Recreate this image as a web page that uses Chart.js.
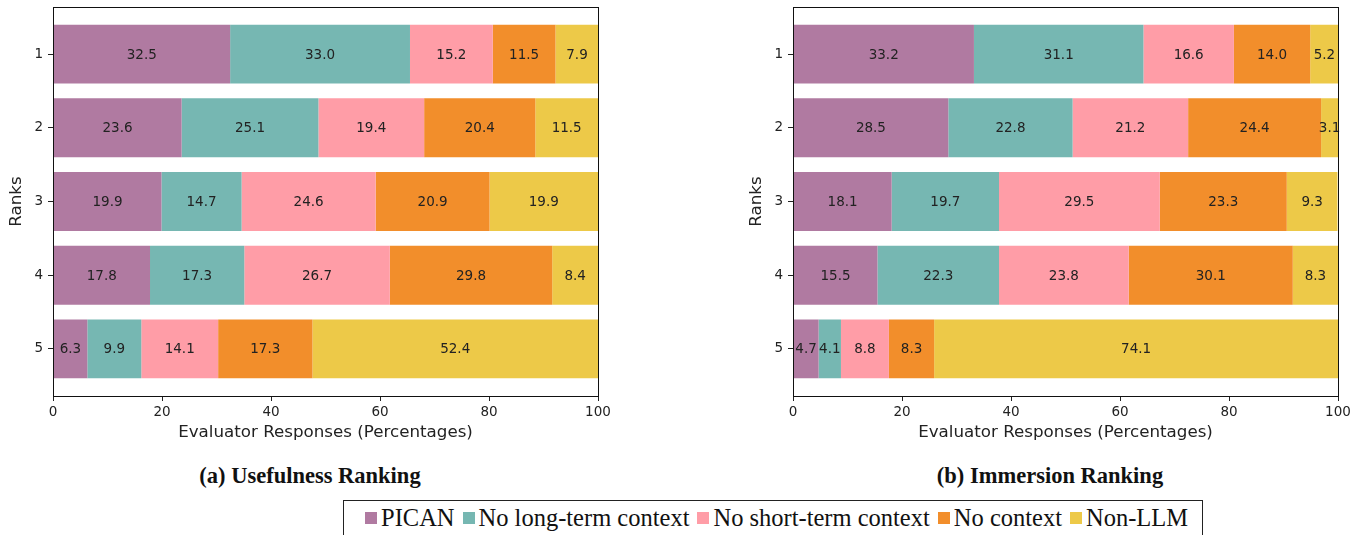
<!DOCTYPE html>
<html>
<head>
<meta charset="utf-8">
<script src="https://cdn.jsdelivr.net/npm/chart.js@4.4.1/dist/chart.umd.min.js"></script>
<style>
  body{margin:0;background:#fff;width:1361px;height:535px;overflow:hidden;position:relative;}
  .wrap{position:absolute;top:0;width:620px;height:448px;}
  .cap{position:absolute;top:463px;font-family:"Liberation Serif",serif;font-weight:bold;font-size:22.5px;color:#111;transform:translateX(-50%);white-space:nowrap;}
  #legend{position:absolute;left:343px;top:500px;width:860px;height:50px;border:1px solid #222;
    font-family:"Liberation Serif",serif;font-size:24.5px;color:#111;display:flex;align-items:flex-start;padding-top:3px;padding-left:21px;box-sizing:border-box;white-space:nowrap;}
  #legend .item{display:flex;align-items:center;margin-right:8px;}
  #legend .sw{width:12px;height:12px;margin-right:4px;}
</style>
</head>
<body>
<div class="wrap" style="left:0"><canvas id="c1"></canvas></div>
<div class="wrap" style="left:740px"><canvas id="c2"></canvas></div>
<div class="cap" style="left:310px">(a) Usefulness Ranking</div>
<div class="cap" style="left:1050px">(b) Immersion Ranking</div>
<div id="legend"></div>
<script>
// ================= DATA =================
const ranks = [1, 2, 3, 4, 5];
const seriesNames = ["PICAN", "No long-term context", "No short-term context", "No context", "Non-LLM"];
const colors = ["#b07aa1", "#76b7b2", "#ff9da7", "#f28e2b", "#edc948"];
const xTicks = [0, 20, 40, 60, 80, 100];

// usefulness (a)
const usePican   = [32.5, 23.6, 19.9, 17.8, 6.3];
const useNoLong  = [33.0, 25.1, 14.7, 17.3, 9.9];
const useNoShort = [15.2, 19.4, 24.6, 26.7, 14.1];
const useNoCtx   = [11.5, 20.4, 20.9, 29.8, 17.3];
const useNonLLM  = [7.9, 11.5, 19.9, 8.4, 52.4];

// immersion (b)
const immPican   = [33.2, 28.5, 18.1, 15.5, 4.7];
const immNoLong  = [31.1, 22.8, 19.7, 22.3, 4.1];
const immNoShort = [16.6, 21.2, 29.5, 23.8, 8.8];
const immNoCtx   = [14.0, 24.4, 23.3, 30.1, 8.3];
const immNonLLM  = [5.2, 3.1, 9.3, 8.3, 74.1];

Chart.defaults.font.family = "'DejaVu Sans'";
Chart.defaults.color = "#222";

// ================= PLUGINS =================
const frame = {
  id: "frame",
  afterDraw(chart){
    const {ctx, chartArea:a} = chart;
    ctx.save();
    ctx.strokeStyle = "#111";
    ctx.lineWidth = 1;
    ctx.strokeRect(Math.round(a.left)+0.5, Math.round(a.top)+0.5, Math.round(a.right-a.left), Math.round(a.bottom-a.top));
    ctx.restore();
  }
};

const barLabels = {
  id: "barLabels",
  afterDatasetsDraw(chart){
    const ctx = chart.ctx;
    ctx.save();
    ctx.font = "13.5px 'DejaVu Sans'";
    ctx.fillStyle = "#222";
    ctx.textAlign = "center";
    ctx.textBaseline = "middle";
    chart.data.datasets.forEach((ds, i) => {
      chart.getDatasetMeta(i).data.forEach((el, j) => {
        const p = el.getProps(["x", "y", "base"], true);
        ctx.fillText(ds.data[j].x.toFixed(1), (p.x + p.base) / 2, p.y + 1);
      });
    });
    ctx.restore();
  }
};

// ================= CHART =================
function makeChart(id, seriesList){
  new Chart(document.getElementById(id), {
    type: "bar",
    data: {
      datasets: seriesList.map((vals, i) => ({
        label: seriesNames[i],
        data: vals.map((v, j) => ({x: v, y: ranks[j]})),
        backgroundColor: colors[i],
        borderWidth: 0,
        stack: "all",
        categoryPercentage: 1,
        barPercentage: 0.8
      }))
    },
    options: {
      indexAxis: "y",
      responsive: false,
      animation: false,
      devicePixelRatio: 1,
      layout: {padding: {top: 7, right: 22, left: 0, bottom: 0}},
      plugins: {legend: {display: false}, tooltip: {enabled: false}},
      scales: {
        x: {
          type: "linear", stacked: true, min: 0, max: 100,
          afterBuildTicks: s => { s.ticks = xTicks.map(v => ({value: v})); },
          afterFit: s => { s.height = 52; },
          border: {display: false},
          grid: {drawOnChartArea: false, tickLength: 5, tickColor: "#222"},
          ticks: {font: {size: 13.5}, padding: 3, maxRotation: 0},
          title: {display: true, text: "Evaluator Responses (Percentages)", font: {size: 16.7}, color: "#222", padding: {top: 2, bottom: 5}}
        },
        y: {
          type: "linear", offset: false, reverse: true, min: 0.36, max: 5.64,
          afterBuildTicks: s => { s.ticks = ranks.map(v => ({value: v})); },
          afterFit: s => { s.width = 53; s.paddingTop = 0; s.paddingBottom = 0; },
          border: {display: false},
          grid: {offset: false, drawOnChartArea: false, tickLength: 5, tickColor: "#222"},
          ticks: {font: {size: 13.5}, padding: 5, callback: v => String(v)},
          title: {display: true, text: "Ranks", font: {size: 16.7}, color: "#222", padding: {top: 7, bottom: 0}}
        }
      }
    },
    plugins: [barLabels, frame]
  });
}

document.getElementById("c1").width = 620; document.getElementById("c1").height = 448;
document.getElementById("c2").width = 620; document.getElementById("c2").height = 448;

makeChart("c1", [usePican, useNoLong, useNoShort, useNoCtx, useNonLLM]);
makeChart("c2", [immPican, immNoLong, immNoShort, immNoCtx, immNonLLM]);

// ================= LEGEND =================
const legend = document.getElementById("legend");
seriesNames.forEach((name, i) => {
  legend.innerHTML += `<div class="item"><span class="sw" style="background:${colors[i]}"></span>${name}</div>`;
});
</script>
</body>
</html>
